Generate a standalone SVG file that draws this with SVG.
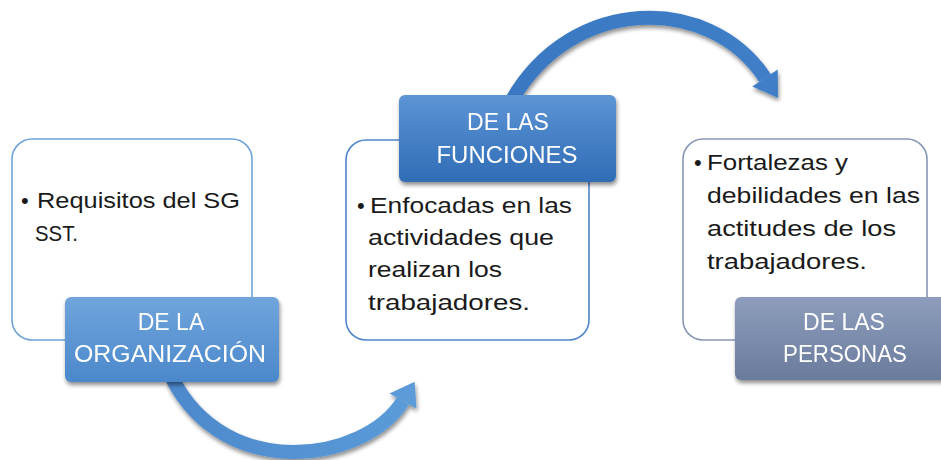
<svg xmlns="http://www.w3.org/2000/svg" width="941" height="460" viewBox="0 0 941 460">
<style>
.box{fill:#ffffff;stroke-width:1.6}
.body{font-family:"Liberation Sans",Arial,sans-serif;font-size:22px;fill:#1a1a1a}
.lbl{font-family:"Liberation Sans",Arial,sans-serif;font-size:23px;fill:#ffffff;text-anchor:middle}
.shaft{fill:none;stroke-width:14}
</style>
<defs>
<linearGradient id="g1" x1="0" y1="0" x2="0" y2="1"><stop offset="0" stop-color="#70a5dc"/><stop offset="1" stop-color="#4b88cb"/></linearGradient>
<linearGradient id="g2" x1="0" y1="0" x2="0" y2="1"><stop offset="0" stop-color="#5d95d5"/><stop offset="1" stop-color="#2f6cb6"/></linearGradient>
<linearGradient id="g3" x1="0" y1="0" x2="0" y2="1"><stop offset="0" stop-color="#8e9dbc"/><stop offset="1" stop-color="#6a7b9c"/></linearGradient>
<linearGradient id="ga1" gradientUnits="userSpaceOnUse" x1="172" y1="400" x2="415" y2="400"><stop offset="0" stop-color="#4d89cc"/><stop offset="1" stop-color="#5b9bd8"/></linearGradient>
<linearGradient id="ga2" gradientUnits="userSpaceOnUse" x1="512" y1="60" x2="780" y2="60"><stop offset="0" stop-color="#3a78c2"/><stop offset="1" stop-color="#3f7fc8"/></linearGradient>
<filter id="sh" filterUnits="userSpaceOnUse" x="0" y="0" width="941" height="460">
<feGaussianBlur in="SourceAlpha" stdDeviation="2"/>
<feOffset dx="1" dy="3" result="o"/>
<feComponentTransfer in="o" result="s"><feFuncA type="linear" slope="0.45"/></feComponentTransfer>
<feMerge><feMergeNode in="s"/><feMergeNode in="SourceGraphic"/></feMerge>
</filter>
</defs>

<g id="connectors">
<g id="arrow1" filter="url(#sh)">
<path class="shaft" stroke="url(#ga1)" d="M172 378 C225 483 364.6 462.6 403 401"/>
<polygon fill="#5b9bd8" points="389.5,393.4 414.7,381.7 416.4,408.6"/>
</g>
<g id="arrow2" filter="url(#sh)">
<path class="shaft" stroke="url(#ga2)" d="M512 100 C572 -4.6 708.9 -6.7 765 78"/>
<polygon fill="#3f7fc8" points="752.3,86.4 777.7,69.6 778,98"/>
</g>
</g>

<g id="node1">
<rect class="box" x="12" y="139" width="240" height="201" rx="20" stroke="#6fa3da"/>
<text class="body" x="21" y="208">•</text>
<text class="body" x="37" y="208" textLength="203" lengthAdjust="spacingAndGlyphs">Requisitos del SG</text>
<text class="body" x="35" y="241" textLength="43" lengthAdjust="spacingAndGlyphs">SST.</text>
</g>
<g id="label1" filter="url(#sh)">
<rect x="65" y="297" width="214" height="85" rx="6" fill="url(#g1)"/>
<text class="lbl" x="171" y="330">DE LA</text>
<text class="lbl" x="170" y="362" textLength="192" lengthAdjust="spacingAndGlyphs">ORGANIZACIÓN</text>
</g>

<g id="node2">
<rect class="box" x="346" y="140" width="243" height="200" rx="20" stroke="#4f86cc"/>
<text class="body" x="357" y="213">•</text>
<text class="body" x="370" y="213" textLength="202" lengthAdjust="spacingAndGlyphs">Enfocadas en las</text>
<text class="body" x="368" y="245" textLength="186" lengthAdjust="spacingAndGlyphs">actividades que</text>
<text class="body" x="368" y="277" textLength="134" lengthAdjust="spacingAndGlyphs">realizan los</text>
<text class="body" x="368" y="310" textLength="162" lengthAdjust="spacingAndGlyphs">trabajadores.</text>
</g>
<g id="label2" filter="url(#sh)">
<rect x="399" y="95" width="217" height="87" rx="6" fill="url(#g2)"/>
<text class="lbl" x="508" y="130">DE LAS</text>
<text class="lbl" x="507" y="163" textLength="141" lengthAdjust="spacingAndGlyphs">FUNCIONES</text>
</g>

<g id="node3">
<rect class="box" x="683" y="139" width="244" height="201" rx="20" stroke="#8797b5"/>
<text class="body" x="694" y="170">•</text>
<text class="body" x="707" y="170" textLength="141" lengthAdjust="spacingAndGlyphs">Fortalezas y</text>
<text class="body" x="707" y="203" textLength="213" lengthAdjust="spacingAndGlyphs">debilidades en las</text>
<text class="body" x="707" y="236" textLength="189" lengthAdjust="spacingAndGlyphs">actitudes de los</text>
<text class="body" x="707" y="269" textLength="160" lengthAdjust="spacingAndGlyphs">trabajadores.</text>
</g>
<g id="label3" filter="url(#sh)">
<rect x="735" y="297" width="218" height="83" rx="6" fill="url(#g3)"/>
<text class="lbl" x="844" y="330">DE LAS</text>
<text class="lbl" x="845" y="362" textLength="124" lengthAdjust="spacingAndGlyphs">PERSONAS</text>
</g>
</svg>
